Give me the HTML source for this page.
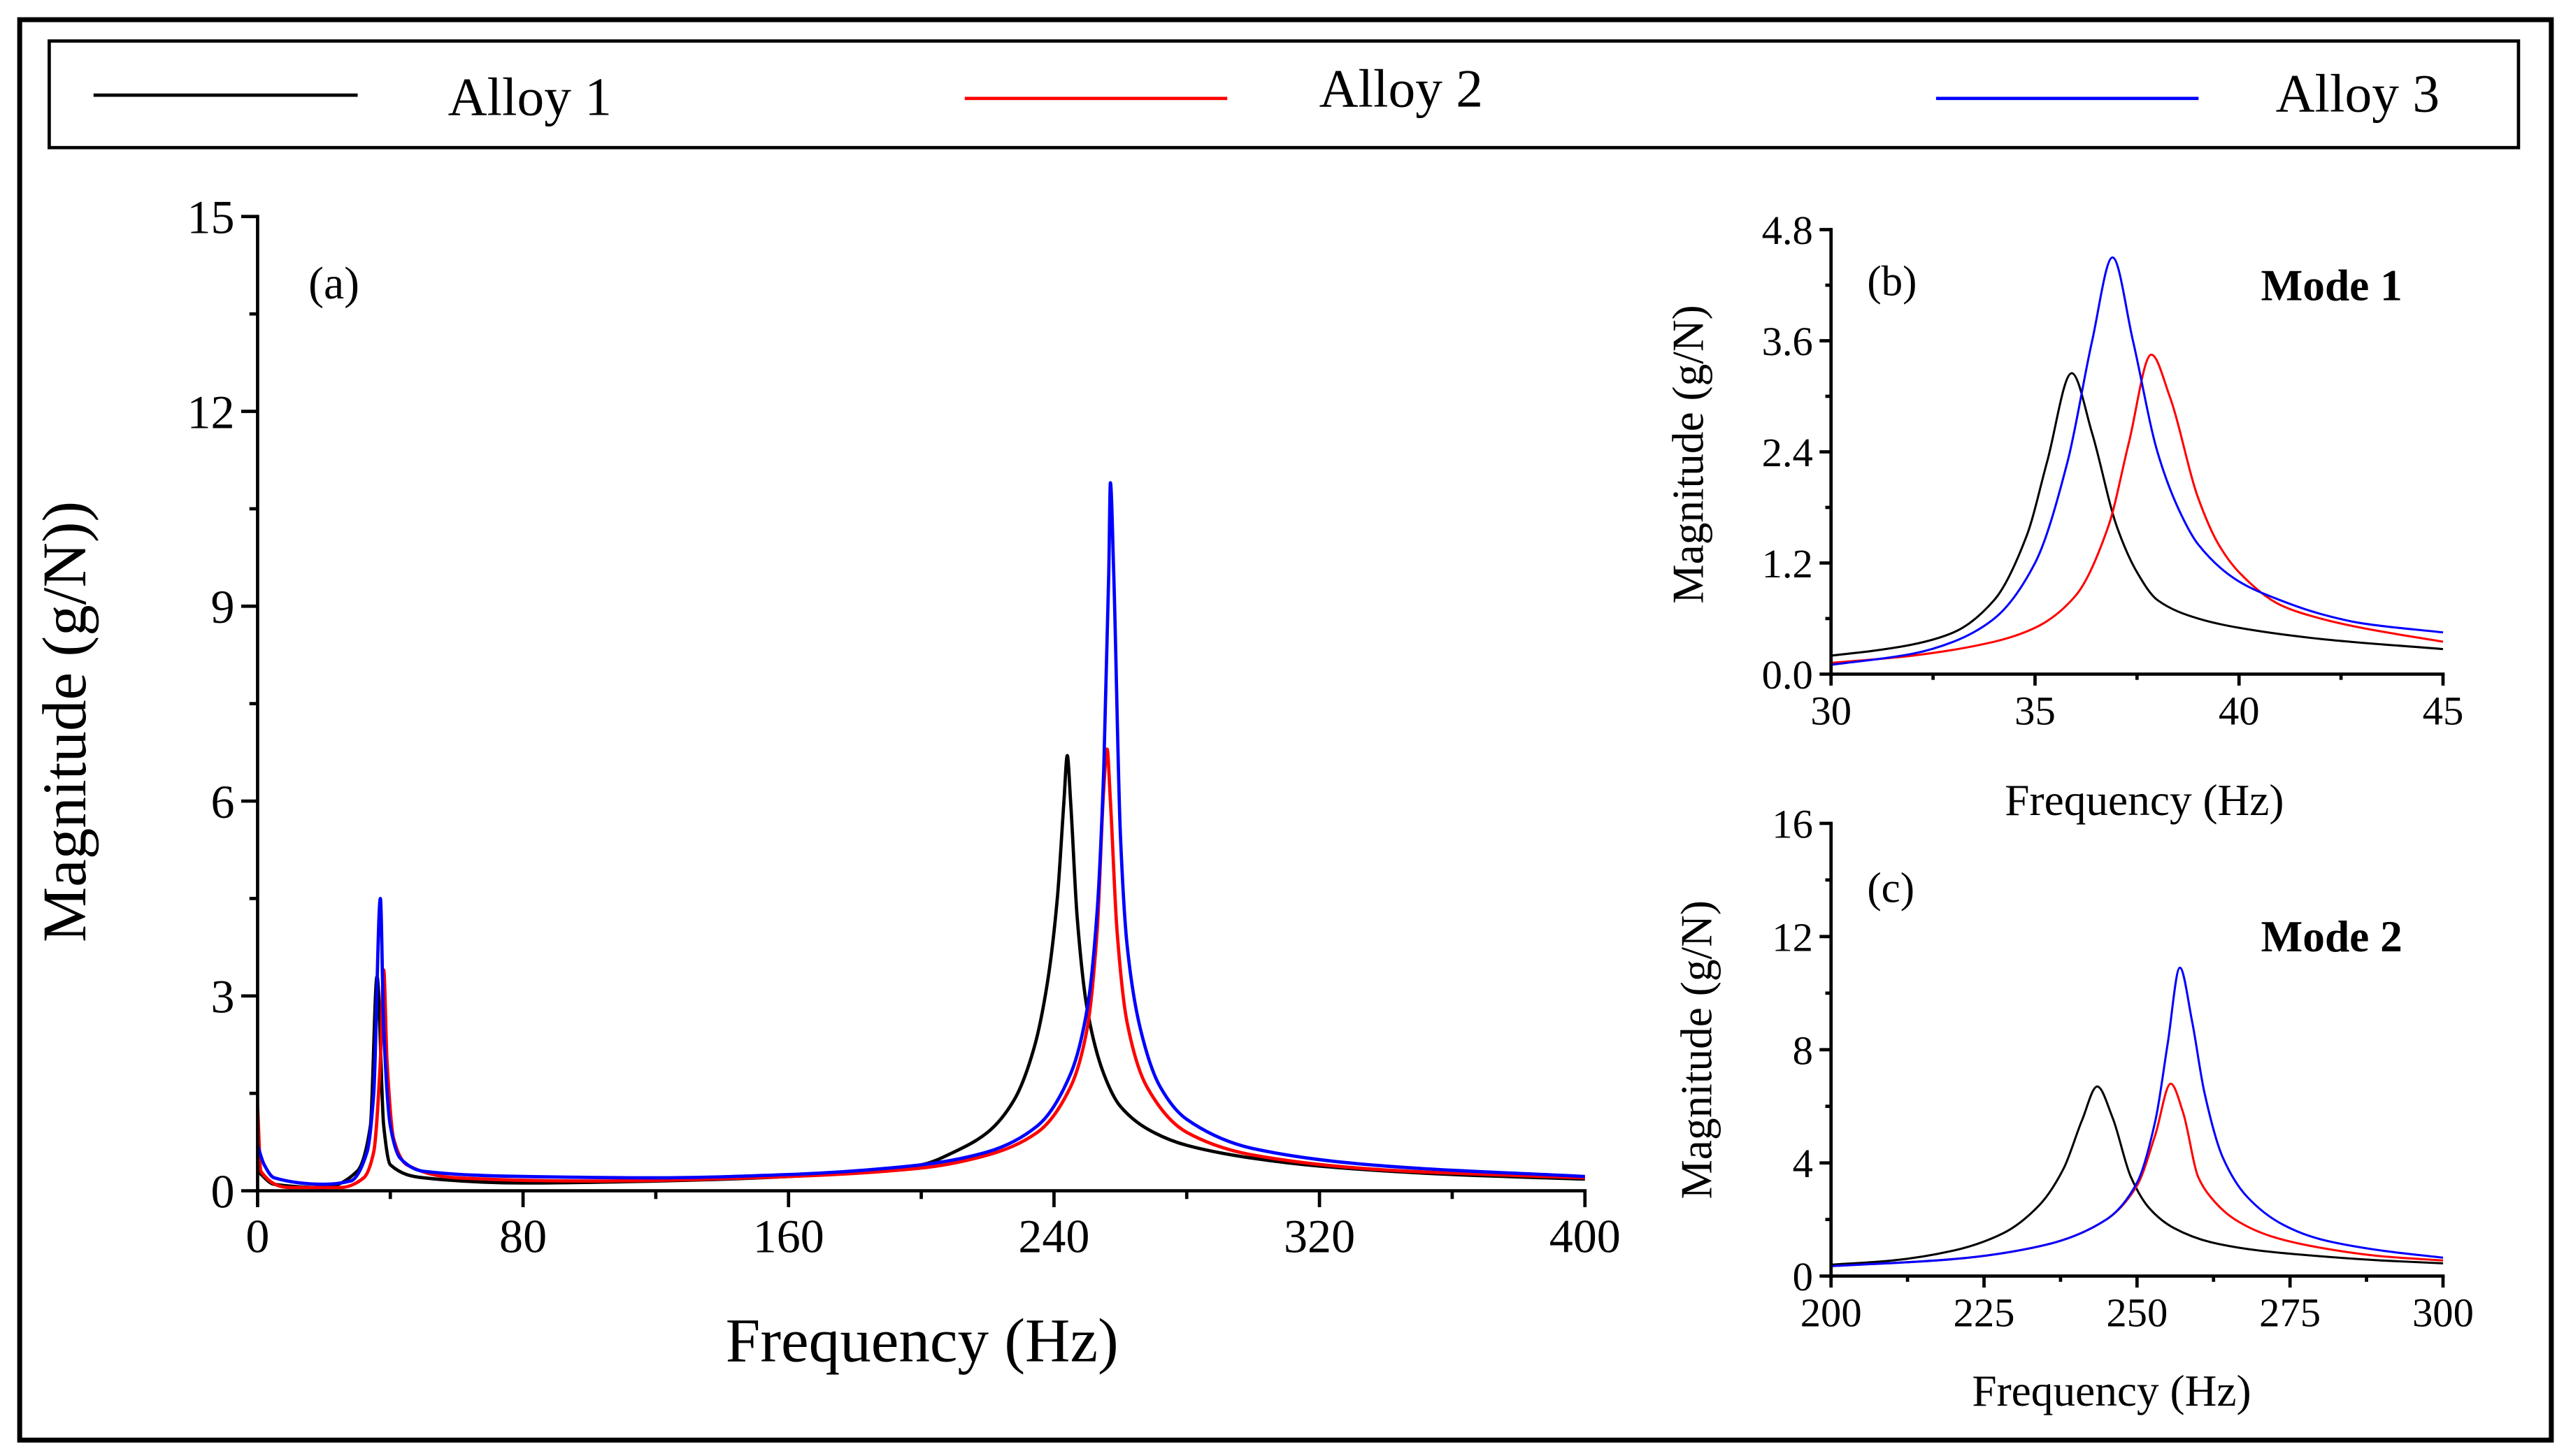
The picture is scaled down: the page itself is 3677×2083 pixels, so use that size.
<!DOCTYPE html>
<html><head><meta charset="utf-8"><style>
html,body{margin:0;padding:0;background:#fff}
svg{display:block;font-family:"Liberation Serif",serif}
</style></head><body>
<svg id="fig" width="3677" height="2083" viewBox="0 0 1567 887.7" xmlns="http://www.w3.org/2000/svg">
<rect x="12" y="12" width="1543" height="866" fill="none" stroke="#000" stroke-width="3"/>
<g>
<rect x="30" y="25" width="1505" height="65" fill="none" stroke="#000" stroke-width="2"/>
<g><line x1="57" y1="58" x2="218" y2="58" stroke="#000" stroke-width="2"/><text x="273" y="70" font-size="33">Alloy 1</text></g>
<g><line x1="588" y1="60" x2="748" y2="60" stroke="#f00" stroke-width="2"/><text x="804" y="65" font-size="33">Alloy 2</text></g>
<g><line x1="1180" y1="60" x2="1340" y2="60" stroke="#00f" stroke-width="2"/><text x="1387" y="68" font-size="33">Alloy 3</text></g>
</g>
</svg>
<script>
// Panel (a) data
const aAlloy1=[[0,0.3],[5,0.1],[20,0.05],[30,0.3],[34,1.0],[36,3.3],[38,1.0],[40,0.4],[50,0.2],[80,0.12],[120,0.15],[160,0.22],[200,0.4],[210,0.6],[220,0.9],[228,1.4],[234,2.2],[238,3.2],[241,4.5],[243,6.0],[244,6.7],[245,6.0],[247,4.2],[250,2.8],[255,1.8],[260,1.3],[270,0.9],[280,0.7],[300,0.5],[320,0.38],[360,0.25],[400,0.18]];
const aAlloy2=[[0,1.3],[1,0.3],[10,0.05],[25,0.05],[32,0.2],[35,0.6],[37,2.0],[38,3.4],[39,2.0],[41,0.8],[45,0.4],[60,0.2],[100,0.15],[160,0.22],[200,0.35],[220,0.55],[235,0.9],[245,1.6],[250,2.5],[253,4.0],[255,6.2],[256,6.8],[257,6.0],[259,4.0],[262,2.6],[268,1.6],[280,0.9],[300,0.55],[340,0.32],[400,0.2]];
const aAlloy3=[[0,0.7],[2,0.4],[5,0.2],[20,0.1],[28,0.15],[33,0.6],[35,1.5],[37,4.5],[38,2.5],[40,1.0],[43,0.5],[50,0.3],[80,0.22],[120,0.2],[160,0.25],[200,0.4],[220,0.6],[235,1.0],[245,1.8],[250,2.8],[253,4.3],[255,6.5],[256.5,9.5],[257,10.9],[258,9.5],[260,5.5],[262,3.8],[266,2.5],[272,1.6],[280,1.1],[300,0.65],[340,0.38],[400,0.22]];
const aXTicks=[0,80,160,240,320,400];
const aYTicks=[0,3,6,9,12,15];
// Panel (b) data
const bAlloy1=[[30,0.2],[31,0.25],[32,0.32],[33,0.45],[34,0.8],[34.8,1.5],[35.3,2.3],[35.9,3.25],[36.4,2.6],[37,1.6],[37.5,1.1],[38,0.8],[39,0.6],[40,0.5],[42,0.38],[45,0.27]];
const bAlloy2=[[30,0.12],[32,0.2],[34,0.35],[35,0.5],[36,0.85],[36.8,1.6],[37.3,2.5],[37.85,3.45],[38.3,3.0],[39,1.9],[39.5,1.4],[40,1.1],[41,0.75],[42,0.6],[43,0.5],[45,0.35]];
const bAlloy3=[[30,0.1],[32,0.22],[33,0.35],[34,0.6],[35,1.2],[35.8,2.3],[36.4,3.6],[36.9,4.5],[37.4,3.6],[38,2.4],[38.5,1.8],[39,1.4],[40,1.0],[41,0.8],[42,0.65],[43,0.55],[45,0.45]];
const bXTicks=[30,35,40,45];
const bYTicks=["0.0","1.2","2.4","3.6","4.8"];
// Panel (c) data
const cAlloy1=[[200,0.4],[210,0.55],[220,0.9],[228,1.5],[234,2.5],[238,3.8],[241,5.5],[243.5,6.7],[246,5.6],[249,3.5],[252,2.4],[256,1.7],[262,1.2],[270,0.9],[280,0.7],[290,0.55],[300,0.45]];
const cAlloy2=[[200,0.35],[220,0.6],[235,1.1],[245,2.0],[250,3.2],[253,5.0],[255.5,6.8],[257.5,5.8],[260,3.5],[262,2.8],[266,2.0],[272,1.4],[280,1.0],[290,0.7],[300,0.55]];
const cAlloy3=[[200,0.35],[220,0.6],[235,1.1],[245,2.0],[250,3.3],[253,5.5],[255,8.2],[257,10.9],[259,9.0],[261,6.5],[264,4.2],[268,2.8],[274,1.8],[280,1.3],[290,0.9],[300,0.65]];
const cXTicks=[200,225,250,275,300];
const cYTicks=[0,4,8,12,16];

const NS="http://www.w3.org/2000/svg";
const svg=document.getElementById('fig');
function mk(tag,attrs,parent){const e=document.createElementNS(NS,tag);for(const k in attrs)e.setAttribute(k,attrs[k]);(parent||svg).appendChild(e);return e;}
function monoPath(P){
  const n=P.length;if(n<2)return '';
  const dx=[],m=[],t=new Array(n);
  for(let i=0;i<n-1;i++){dx[i]=P[i+1][0]-P[i][0];m[i]=(P[i+1][1]-P[i][1])/dx[i];}
  t[0]=m[0];t[n-1]=m[n-2];
  for(let i=1;i<n-1;i++){
    if(m[i-1]*m[i]<=0)t[i]=0;
    else{const w1=2*dx[i]+dx[i-1],w2=dx[i]+2*dx[i-1];t[i]=(w1+w2)/(w1/m[i-1]+w2/m[i]);}
  }
  let d='M'+P[0][0].toFixed(2)+','+P[0][1].toFixed(2);
  for(let i=0;i<n-1;i++){
    const h=dx[i]/3;
    d+=' C'+(P[i][0]+h).toFixed(2)+','+(P[i][1]+t[i]*h).toFixed(2)+' '+(P[i+1][0]-h).toFixed(2)+','+(P[i+1][1]-t[i+1]*h).toFixed(2)+' '+P[i+1][0].toFixed(2)+','+P[i+1][1].toFixed(2);
  }
  return d;
}
function panel(o){
  const g=mk('g',{});
  
  
  const sx=v=>o.x0+(v-o.xmin)/(o.xmax-o.xmin)*(o.x1-o.x0);
  const sy=v=>o.y0-(v-o.ymin)/(o.ymax-o.ymin)*(o.y0-o.y1);
  const colors=['#000','#f00','#00f'];
  o.series.forEach((s,i)=>{
    const pts=s.map(d=>[sx(d[0]),sy(Math.max(d[1],0))]);
    const p=mk('path',{d:monoPath(pts),fill:'none',stroke:colors[i],'stroke-width':o.lw,'stroke-linejoin':'round'},g);
    
    
  });
  const ax=mk('line',{x1:o.x0,y1:o.y0,x2:o.x1+1,y2:o.y0,stroke:'#000','stroke-width':2},g);
  
  
  const ay=mk('line',{x1:o.x0,y1:o.y0,x2:o.x0,y2:o.y1-1,stroke:'#000','stroke-width':2},g);
  
  
  o.xt.forEach((t,i)=>{
    const x=sx(+t);
    mk('line',{x1:x,y1:o.y0,x2:x,y2:o.y0+o.tl,stroke:'#000','stroke-width':2},g);
    if(i<o.xt.length-1){const xm=sx((+t + +o.xt[i+1])/2);mk('line',{x1:xm,y1:o.y0,x2:xm,y2:o.y0+o.tl/2,stroke:'#000','stroke-width':2},g);}
    const tx=mk('text',{x:x,y:o.y0+o.tl+o.fs*0.95,'font-size':o.fs,'text-anchor':'middle'},g);
    tx.textContent=t;
    
    
  });
  o.yt.forEach((t,i)=>{
    const y=sy(+t);
    mk('line',{x1:o.x0,y1:y,x2:o.x0-o.tl,y2:y,stroke:'#000','stroke-width':2},g);
    if(i<o.yt.length-1){const ym=sy((+t + +o.yt[i+1])/2);mk('line',{x1:o.x0,y1:ym,x2:o.x0-o.tl/2,y2:ym,stroke:'#000','stroke-width':2},g);}
    const tx=mk('text',{x:o.x0-o.tl-4,y:y+o.fs*0.35,'font-size':o.fs,'text-anchor':'end'},g);
    tx.textContent=t;
    
    
  });
  const xt=mk('text',{x:o.xtx,y:o.xty,'font-size':o.tfs,'text-anchor':'middle'},g);
  xt.textContent='Frequency (Hz)';
  
  
  const yt=mk('text',{x:o.ytx,y:o.yty,'font-size':o.tfs,'text-anchor':'middle',transform:`rotate(-90 ${o.ytx} ${o.yty})`},g);
  yt.textContent=o.ytitle;
  
  
  const lb=mk('text',{x:o.lx,y:o.ly,'font-size':o.lfs},g);
  lb.textContent=o.label;
  
  
  if(o.mode){const m=mk('text',{x:o.mx,y:o.my,'font-size':o.lfs+1,'font-weight':'bold'},g);
    m.textContent=o.mode;
    
    }
}
panel({name:'panel-a',x0:157,x1:966,y0:726,y1:132,xmin:0,xmax:400,ymin:0,ymax:15,series:[aAlloy1,aAlloy2,aAlloy3],xt:aXTicks,yt:aYTicks,tl:10,fs:29,tfs:38,lw:2,xtx:562,xty:830,ytx:52,yty:440,ytitle:'Magnitude (g/N))',label:'(a)',lx:188,ly:182,lfs:28});
panel({name:'panel-b',x0:1116,x1:1489,y0:411,y1:140,xmin:30,xmax:45,ymin:0,ymax:4.8,series:[bAlloy1,bAlloy2,bAlloy3],xt:bXTicks,yt:bYTicks,tl:7,fs:25,tfs:27,lw:1.3,xtx:1307,xty:497,ytx:1038,yty:277,ytitle:'Magnitude (g/N)',label:'(b)',lx:1138,ly:180,lfs:26,mode:'Mode 1',mx:1378,my:183});
panel({name:'panel-c',x0:1116,x1:1489,y0:778,y1:502,xmin:200,xmax:300,ymin:0,ymax:16,series:[cAlloy1,cAlloy2,cAlloy3],xt:cXTicks,yt:cYTicks,tl:7,fs:25,tfs:27,lw:1.3,xtx:1287,xty:857,ytx:1043,yty:640,ytitle:'Magnitude (g/N)',label:'(c)',lx:1138,ly:550,lfs:26,mode:'Mode 2',mx:1378,my:580});
</script>
</body></html>
